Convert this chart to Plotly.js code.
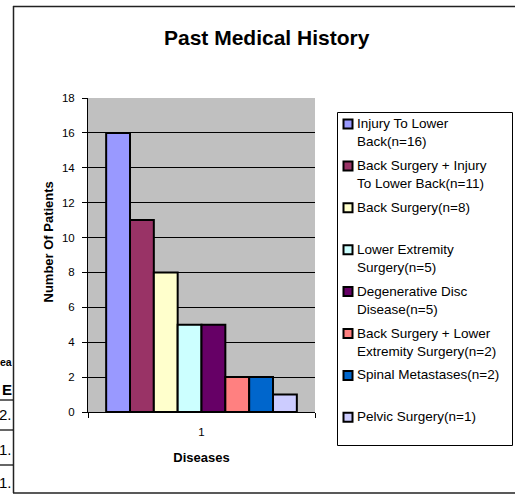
<!DOCTYPE html>
<html><head><meta charset="utf-8">
<script src="https://cdn.plot.ly/plotly-3.0.1.min.js"></script>
<style>html,body{margin:0;padding:0;background:#fff;overflow:hidden;} #chart{width:515px;height:494px;}</style>
</head><body><div id="chart"></div>
<script>
// ---- data ----
const categories = ['1'];
const seriesNames = ['Injury To Lower Back(n=16)', 'Back Surgery + Injury To Lower Back(n=11)', 'Back Surgery(n=8)', 'Lower Extremity Surgery(n=5)', 'Degenerative Disc Disease(n=5)', 'Back Surgery + Lower Extremity Surgery(n=2)', 'Spinal Metastases(n=2)', 'Pelvic Surgery(n=1)'];
const legendLabels = ['Injury To Lower<br>Back(n=16)', 'Back Surgery + Injury<br>To Lower Back(n=11)', 'Back Surgery(n=8)', 'Lower Extremity<br>Surgery(n=5)', 'Degenerative Disc<br>Disease(n=5)', 'Back Surgery + Lower<br>Extremity Surgery(n=2)', 'Spinal Metastases(n=2)', 'Pelvic Surgery(n=1)'];
const seriesValues = [16, 11, 8, 5, 5, 2, 2, 1];
const seriesColors = ['#9999FF', '#993366', '#FFFFCC', '#CCFFFF', '#660066', '#FF8080', '#0066CC', '#CCCCFF'];
const yTickValues = [0, 2, 4, 6, 8, 10, 12, 14, 16, 18];
const chartTitle = 'Past Medical History';
const xTitle = 'Diseases';
const yTitle = 'Number Of Patients';
const backgroundFragments = ['ea', 'E', '2.', '1.', '1.'];

// ---- geometry helpers (pixels -> paper) ----
const W = 515, H = 494;
const PL = 88, PR = 315, PT = 98, PB = 412;
const fx = px => (px - PL) / (PR - PL);
const fy = py => (PB - py) / (PB - PT);
const FONT = 'Arial, "Liberation Sans", sans-serif';

const traces = seriesNames.map((name, i) => ({
  type: 'bar',
  name: name,
  x: categories,
  y: [seriesValues[i]],
  marker: { color: seriesColors[i], line: { color: '#000000', width: 2 } },
  hoverinfo: 'name+y'
}));

const shapes = [];
const annotations = [];

// outer chart border
const borderColor = '#222222';
shapes.push({ type: 'line', xref: 'paper', yref: 'paper', x0: fx(13), x1: fx(530), y0: fy(6.5), y1: fy(6.5), line: { color: borderColor, width: 1.5 } });
shapes.push({ type: 'line', xref: 'paper', yref: 'paper', x0: fx(13.5), x1: fx(13.5), y0: fy(6), y1: fy(493), line: { color: borderColor, width: 1.5 } });
shapes.push({ type: 'line', xref: 'paper', yref: 'paper', x0: fx(13), x1: fx(530), y0: fy(493), y1: fy(493), line: { color: borderColor, width: 1.5 } });

// background table fragments peeking out on the left
const fragY = [362, 389, 414, 449, 482];
const fragSize = [10.5, 15, 15, 15, 15];
const fragBold = [true, true, false, false, false];
backgroundFragments.forEach((t, i) => {
  annotations.push({
    xref: 'paper', yref: 'paper', x: fx(13), y: fy(fragY[i]), xanchor: 'right', yanchor: 'middle',
    text: fragBold[i] ? '<b>' + t + '</b>' : t, showarrow: false, borderpad: 0,
    font: { family: FONT, size: fragSize[i], color: '#000' }
  });
});
[400, 430, 465].forEach(py => {
  shapes.push({ type: 'line', xref: 'paper', yref: 'paper', x0: fx(0), x1: fx(13), y0: fy(py), y1: fy(py), line: { color: '#000', width: 1.2 } });
});

// legend box
shapes.push({ type: 'rect', xref: 'paper', yref: 'paper', x0: fx(337.5), x1: fx(512.5), y0: fy(112.5), y1: fy(445.5), line: { color: '#000', width: 1 }, fillcolor: 'rgba(0,0,0,0)' });
const legendStep = 41.9, legendFirst = 124;
seriesNames.forEach((name, i) => {
  const cy = legendFirst + legendStep * i;
  shapes.push({ type: 'rect', xref: 'paper', yref: 'paper', x0: fx(343.5), x1: fx(352.5), y0: fy(cy - 4.5), y1: fy(cy + 4.5), line: { color: '#000', width: 2 }, fillcolor: seriesColors[i] });
  annotations.push({
    xref: 'paper', yref: 'paper', x: fx(355), y: fy(cy - 10), xanchor: 'left', yanchor: 'top', align: 'left',
    text: legendLabels[i], showarrow: false,
    font: { family: FONT, size: 13.5, color: '#000' }
  });
});

// y axis title
annotations.push({
  xref: 'paper', yref: 'paper', x: fx(47.5), y: fy(242), xanchor: 'center', yanchor: 'middle', textangle: -90,
  text: '<b>' + yTitle + '</b>', showarrow: false, font: { family: FONT, size: 13, color: '#000' }
});

const layout = {
  width: W, height: H,
  margin: { l: PL, r: W - PR, t: PT, b: H - PB, pad: 0 },
  paper_bgcolor: '#ffffff',
  plot_bgcolor: '#C0C0C0',
  showlegend: false,
  barmode: 'group',
  bargap: 0.16,
  bargroupgap: 0,
  title: {
    text: '<b>' + chartTitle + '</b>',
    font: { family: FONT, size: 21, color: '#000' },
    xref: 'container', yref: 'container',
    x: 266.7 / W, xanchor: 'center',
    y: 1 - 38 / H, yanchor: 'middle'
  },
  xaxis: {
    type: 'category',
    tickson: 'boundaries',
    ticks: 'outside', ticklen: 5, tickcolor: '#000', tickwidth: 1,
    showline: true, linecolor: '#000', linewidth: 1,
    showgrid: false, zeroline: false,
    tickfont: { family: FONT, size: 11.5, color: '#000' },
    ticklabelstandoff: 9,
    title: { text: '<b>' + xTitle + '</b>', font: { family: FONT, size: 13, color: '#000' }, standoff: 16 },
    automargin: false,
    fixedrange: true
  },
  yaxis: {
    range: [0, 18],
    tickvals: yTickValues,
    ticktext: yTickValues.map(String),
    ticks: 'outside', ticklen: 5, tickcolor: '#000', tickwidth: 1,
    showline: true, linecolor: '#000', linewidth: 1,
    showgrid: true, gridcolor: '#000', gridwidth: 1,
    zeroline: false,
    tickfont: { family: FONT, size: 11.5, color: '#000' },
    ticklabelstandoff: 5,
    automargin: false,
    fixedrange: true
  },
  shapes: shapes,
  annotations: annotations
};

Plotly.newPlot('chart', traces, layout, { displayModeBar: false, staticPlot: true });
</script>
</body></html>
